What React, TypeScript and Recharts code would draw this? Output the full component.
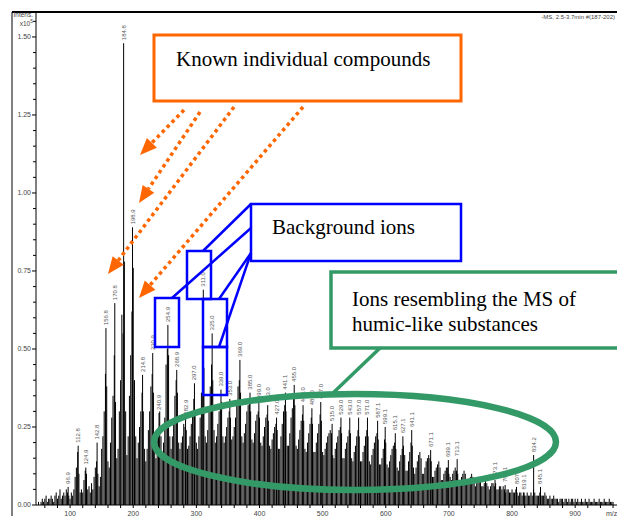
import { BarChart, Bar, XAxis, YAxis, LabelList } from 'recharts';

// labelled peaks (m/z, intensity x10^5)
const labeledMz = [
  96.9, 112.8, 124.9, 142.8, 156.8, 170.8, 184.8, 198.9, 214.8, 230.9, 240.9, 254.9,
  268.9, 282.9, 297.0, 311.0, 325.0, 339.0, 353.0, 369.0, 385.0, 399.0, 413.0, 427.0,
  441.1, 455.0, 469.0, 483.0, 497.0, 515.0, 529.0, 543.0, 557.0, 571.0, 587.1, 599.1,
  615.1, 627.1, 641.1, 671.1, 699.1, 713.1, 773.1, 789.1, 807.1, 819.1, 834.2, 845.1,
];
const labeledIntensity = [
  0.058, 0.19, 0.12, 0.2, 0.567, 0.647, 1.48, 0.89, 0.417, 0.487, 0.295, 0.577,
  0.433, 0.28, 0.39, 0.69, 0.55, 0.37, 0.34, 0.465, 0.36, 0.33, 0.32, 0.28,
  0.36, 0.385, 0.32, 0.31, 0.33, 0.26, 0.28, 0.28, 0.28, 0.28, 0.27, 0.25,
  0.23, 0.22, 0.24, 0.176, 0.144, 0.147, 0.08, 0.064, 0.058, 0.04, 0.16, 0.058,
];

// unlabelled ions, every 2 m/z
const lowMassStart = 50;
const lowMassIntensity = [
  0.01, 0.0, 0.01, 0.02, 0.01, 0.02, 0.03, 0.01, 0.02, 0.02,
  0.03, 0.02, 0.01, 0.03, 0.04, 0.02, 0.03, 0.05, 0.02, 0.03,
  0.04, 0.03, 0.05, 0.04, 0.03, 0.02, 0.04, 0.03, 0.05, 0.09,
  0.12, 0.17, 0.1, 0.04, 0.05, 0.04, 0.08, 0.11, 0.1, 0.05,
  0.06, 0.04, 0.07, 0.05, 0.09, 0.12, 0.14, 0.1, 0.06, 0.09,
  0.18, 0.22, 0.3, 0.42, 0.38, 0.14, 0.12, 0.2, 0.28, 0.35,
  0.48, 0.33, 0.15, 0.18, 0.3, 0.4, 0.61, 0.55, 0.78, 0.3,
  0.16, 0.22, 0.35, 0.48, 0.62, 0.76,
];
const midMassStart = 202;
const midMassIntensity = [
  0.4, 0.22, 0.15, 0.2, 0.25, 0.3, 0.36, 0.3, 0.18, 0.14,
  0.18, 0.24, 0.3, 0.38, 0.42, 0.36, 0.18, 0.15, 0.22, 0.25,
  0.3, 0.22, 0.16, 0.2, 0.28, 0.45, 0.5, 0.48, 0.22, 0.18,
  0.22, 0.26, 0.35, 0.4, 0.36, 0.2, 0.18, 0.2, 0.22, 0.26,
  0.25, 0.24, 0.18, 0.19, 0.22, 0.26, 0.3, 0.34, 0.3, 0.2,
  0.18, 0.22, 0.28, 0.36, 0.5, 0.44, 0.22, 0.2, 0.24, 0.3,
  0.38, 0.45, 0.4, 0.24, 0.2, 0.22, 0.26, 0.3, 0.32, 0.33,
  0.22, 0.2, 0.22, 0.25, 0.28, 0.3, 0.28, 0.21, 0.22, 0.25,
  0.28, 0.32, 0.38, 0.4, 0.36, 0.22, 0.2, 0.23, 0.26, 0.3,
  0.32, 0.33, 0.3, 0.21, 0.2, 0.23, 0.27, 0.29, 0.3, 0.28,
  0.2, 0.19, 0.22, 0.25, 0.28, 0.29, 0.27, 0.19, 0.18, 0.21,
  0.23, 0.25, 0.26, 0.24, 0.18, 0.18, 0.22, 0.26, 0.3, 0.32,
  0.3, 0.19, 0.19, 0.23, 0.28, 0.31, 0.34, 0.32, 0.19, 0.18,
  0.21, 0.24, 0.27, 0.29, 0.27, 0.18, 0.17, 0.2, 0.23, 0.26,
  0.28, 0.26, 0.17, 0.17, 0.2, 0.23, 0.26, 0.29, 0.27, 0.17,
  0.16, 0.18, 0.2, 0.22, 0.23, 0.24, 0.23, 0.16, 0.15, 0.18,
  0.2, 0.22, 0.24, 0.25, 0.23, 0.15, 0.15, 0.18, 0.2, 0.22,
  0.24, 0.23, 0.15, 0.14, 0.17, 0.19, 0.22, 0.24, 0.22, 0.14,
  0.14, 0.17, 0.19, 0.22, 0.24, 0.22, 0.14, 0.13, 0.16, 0.18,
  0.2, 0.22, 0.23, 0.21, 0.13, 0.13, 0.15, 0.18, 0.21, 0.2,
  0.13, 0.12, 0.14, 0.16, 0.18, 0.19, 0.2, 0.18, 0.12, 0.11,
  0.14, 0.16, 0.18, 0.19, 0.16, 0.11, 0.11, 0.14, 0.17, 0.2,
  0.19, 0.12, 0.1, 0.12, 0.14, 0.16, 0.17, 0.15, 0.1, 0.1,
  0.12, 0.14, 0.15, 0.16, 0.15, 0.14, 0.09, 0.09, 0.11, 0.12,
  0.13, 0.14, 0.12, 0.08, 0.08, 0.1, 0.11, 0.12, 0.12, 0.1,
];
const highMassStart = 702;
const highMassIntensity = [
  0.09, 0.08, 0.1, 0.11, 0.12, 0.11, 0.1, 0.08, 0.07, 0.09,
  0.1, 0.11, 0.1, 0.08, 0.07, 0.07, 0.09, 0.1, 0.09, 0.07,
  0.06, 0.07, 0.08, 0.09, 0.08, 0.06, 0.06, 0.07, 0.08, 0.07,
  0.06, 0.05, 0.06, 0.07, 0.07, 0.06, 0.07, 0.05, 0.05, 0.06,
  0.06, 0.05, 0.06, 0.05, 0.04, 0.05, 0.05, 0.04, 0.04, 0.05,
  0.04, 0.04, 0.05, 0.04, 0.03, 0.04, 0.04, 0.03, 0.04, 0.03,
  0.03, 0.04, 0.03, 0.03, 0.04, 0.03, 0.05, 0.04, 0.03, 0.03,
  0.03, 0.04, 0.03, 0.03, 0.03, 0.04, 0.03, 0.02, 0.02, 0.03,
  0.02, 0.02, 0.03, 0.02, 0.02, 0.02, 0.01, 0.02, 0.02, 0.02,
  0.01, 0.02, 0.02, 0.01, 0.02, 0.01, 0.02, 0.02, 0.01, 0.02,
  0.01, 0.02, 0.01, 0.01, 0.02, 0.01, 0.01, 0.02, 0.01, 0.01,
  0.02, 0.01, 0.01, 0.01, 0.02, 0.01, 0.01, 0.01, 0.02, 0.01,
  0.01, 0.01, 0.02, 0.01, 0.01, 0.01, 0.02, 0.01, 0.01, 0.01,
];

const xTicks = [
  60, 80, 100, 120, 140, 160, 180, 200, 220, 240, 260, 280, 300, 320, 340, 360, 380,
  400, 420, 440, 460, 480, 500, 520, 540, 560, 580, 600, 620, 640, 660, 680, 700, 720,
  740, 760, 780, 800, 820, 840, 860, 880, 900, 920, 940, 960, 980,
];
const yTicks = [
  0, 0.05, 0.1, 0.15, 0.2, 0.25, 0.3, 0.35, 0.4, 0.45, 0.5, 0.55, 0.6, 0.65, 0.7, 0.75,
  0.8, 0.85, 0.9, 0.95, 1.0, 1.05, 1.1, 1.15, 1.2, 1.25, 1.3, 1.35, 1.4, 1.45, 1.5, 1.55,
];

const spectrum = [
  ...lowMassIntensity.map((h, i) => ({ mz: lowMassStart + 2 * i, h })),
  ...midMassIntensity.map((h, i) => ({ mz: midMassStart + 2 * i, h })),
  ...highMassIntensity.map((h, i) => ({ mz: highMassStart + 2 * i, h })),
  ...labeledMz.map((mz, i) => ({ mz, h: labeledIntensity[i], label: mz.toFixed(1) })),
];

const SANS = 'Liberation Sans, Arial, sans-serif';
const SERIF = 'Liberation Serif, Times New Roman, serif';
const ORANGE = '#ff6600';
const BLUE = '#0000ff';
const GREEN = '#339966';

const XTick = ({ x, y, payload }: any) => {
  const major = payload.value % 100 === 0;
  return (
    <g>
      <line x1={x} x2={x} y1={y} y2={y + 3} stroke="#000" />
      {major && (
        <text x={x} y={y + 10.5} textAnchor="middle" fontSize={7} fill="#444" fontFamily={SANS}>
          {payload.value}
        </text>
      )}
    </g>
  );
};

const YTick = ({ x, y, payload }: any) => {
  const major = Math.round(payload.value * 100) % 25 === 0;
  return (
    <g>
      <line x1={x - (major ? 4 : 3)} x2={x} y1={y} y2={y} stroke="#000" />
      {major && (
        <text x={x - 5} y={y + 2.4} textAnchor="end" fontSize={7} fill="#444" fontFamily={SANS}>
          {payload.value.toFixed(2)}
        </text>
      )}
    </g>
  );
};

// one stick per ion, centred on its m/z
const Stick = (props: any) => {
  const { x, y, width, height } = props;
  if (!height || height <= 0) return null;
  const cx = x + width / 2;
  return <line x1={cx} x2={cx} y1={y} y2={y + height} stroke="#000" strokeWidth={1} />;
};

const PeakLabel = (props: any) => {
  const { x, y, width, value } = props;
  if (!value) return null;
  const lx = x + width / 2 + 2;
  const ly = y - 3;
  return (
    <text x={lx} y={ly} transform={`rotate(-90 ${lx} ${ly})`} fontSize={6} fill="#555" fontFamily={SANS}>
      {value}
    </text>
  );
};

function DottedArrow({ x1, y1, x2, y2 }: { x1: number; y1: number; x2: number; y2: number }) {
  const len = Math.hypot(x2 - x1, y2 - y1);
  const ux = (x2 - x1) / len;
  const uy = (y2 - y1) / len;
  const bx = x2 - ux * 17;
  const by = y2 - uy * 17;
  return (
    <g>
      <line x1={x1} y1={y1} x2={bx} y2={by} stroke={ORANGE} strokeWidth={3.5} strokeDasharray="3.5 3.5" />
      <polygon points={`${x2},${y2} ${bx - uy * 7},${by + ux * 7} ${bx + uy * 7},${by - ux * 7}`} fill={ORANGE} />
    </g>
  );
}

function Annotations() {
  return (
    <svg width={640} height={516} style={{ position: 'absolute', left: 0, top: 0, pointerEvents: 'none' }}>
      <line x1={12} y1={12} x2={12} y2={516} stroke="#000" strokeWidth={1} />
      <line x1={12} y1={12} x2={640} y2={12} stroke="#000" strokeWidth={2} />
      <text x={33} y={17} textAnchor="end" fontSize={6.5} fill="#444" fontFamily={SANS}>Intens.</text>
      <text x={33} y={25.5} textAnchor="end" fontSize={6.5} fill="#444" fontFamily={SANS}>
        x10<tspan dy={-2.5} fontSize={5}>5</tspan>
      </text>
      <text x={615} y={19} textAnchor="end" fontSize={6} fill="#444" fontFamily={SANS}>-MS, 2.5-3.7min #(187-202)</text>
      <text x={606} y={515.5} fontSize={7} fill="#444" fontFamily={SANS}>m/z</text>

      {/* known compounds */}
      <rect x={154} y={35} width={307} height={66} fill="#fff" stroke={ORANGE} strokeWidth={3} />
      <text x={176} y={66} fontSize={21} fontFamily={SERIF} fill="#000">Known individual compounds</text>
      <DottedArrow x1={184} y1={110} x2={140} y2={155} />
      <DottedArrow x1={200} y1={112} x2={139} y2={203} />
      <DottedArrow x1={234} y1={107} x2={108} y2={274} />
      <DottedArrow x1={303} y1={107} x2={139} y2={298} />

      {/* background ions */}
      <rect x={251} y={204} width={210} height={57} fill="#fff" stroke={BLUE} strokeWidth={2.5} />
      <text x={272} y={234} fontSize={21} fontFamily={SERIF} fill="#000">Background ions</text>
      <rect x={155} y={298} width={24} height={49} fill="none" stroke={BLUE} strokeWidth={2.5} />
      <rect x={187} y={251} width={24} height={48} fill="none" stroke={BLUE} strokeWidth={2.5} />
      <rect x={203} y={299} width={24} height={48} fill="none" stroke={BLUE} strokeWidth={2.5} />
      <rect x={203} y={347} width={24} height={48} fill="none" stroke={BLUE} strokeWidth={2.5} />
      <line x1={251} y1={204} x2={203} y2={251} stroke={BLUE} strokeWidth={2.5} />
      <line x1={251} y1={228} x2={172} y2={298} stroke={BLUE} strokeWidth={2.5} />
      <line x1={251} y1={253} x2={219} y2={299} stroke={BLUE} strokeWidth={2.5} />
      <line x1={251} y1={253} x2={219} y2={347} stroke={BLUE} strokeWidth={2.5} />

      {/* humic-like */}
      <rect x={331} y={272} width={300} height={76} fill="#fff" stroke={GREEN} strokeWidth={3.5} />
      <text x={352} y={306} fontSize={21} fontFamily={SERIF} fill="#000">Ions resembling the MS of</text>
      <text x={352} y={331} fontSize={21} fontFamily={SERIF} fill="#000">humic-like substances</text>
      <line x1={380} y1={348} x2={333} y2={393} stroke={GREEN} strokeWidth={3.5} />
      <ellipse cx={355} cy={442} rx={201} ry={48} fill="none" stroke={GREEN} strokeWidth={6.5} />
    </svg>
  );
}

export default function App() {
  return (
    <div style={{ position: 'absolute', left: 0, top: 0, width: 617, height: 516, overflow: 'hidden', background: '#fff' }}>
      <BarChart width={640} height={516} data={spectrum} margin={{ top: 12, right: 8, bottom: 0, left: 0 }}>
        <XAxis
          type="number"
          dataKey="mz"
          domain={[46, 990]}
          allowDataOverflow
          ticks={xTicks}
          interval={0}
          height={11}
          tickSize={0}
          tickMargin={0}
          axisLine={{ stroke: '#000' }}
          tickLine={false}
          tick={<XTick />}
        />
        <YAxis
          type="number"
          domain={[0, 1.58]}
          allowDataOverflow
          ticks={yTicks}
          interval={0}
          width={36}
          tickSize={0}
          tickMargin={0}
          axisLine={{ stroke: '#000' }}
          tickLine={false}
          tick={<YTick />}
        />
        <Bar dataKey="h" fill="#000" barSize={1} shape={<Stick />} isAnimationActive={false}>
          <LabelList dataKey="label" content={<PeakLabel />} />
        </Bar>
      </BarChart>
      <Annotations />
    </div>
  );
}
